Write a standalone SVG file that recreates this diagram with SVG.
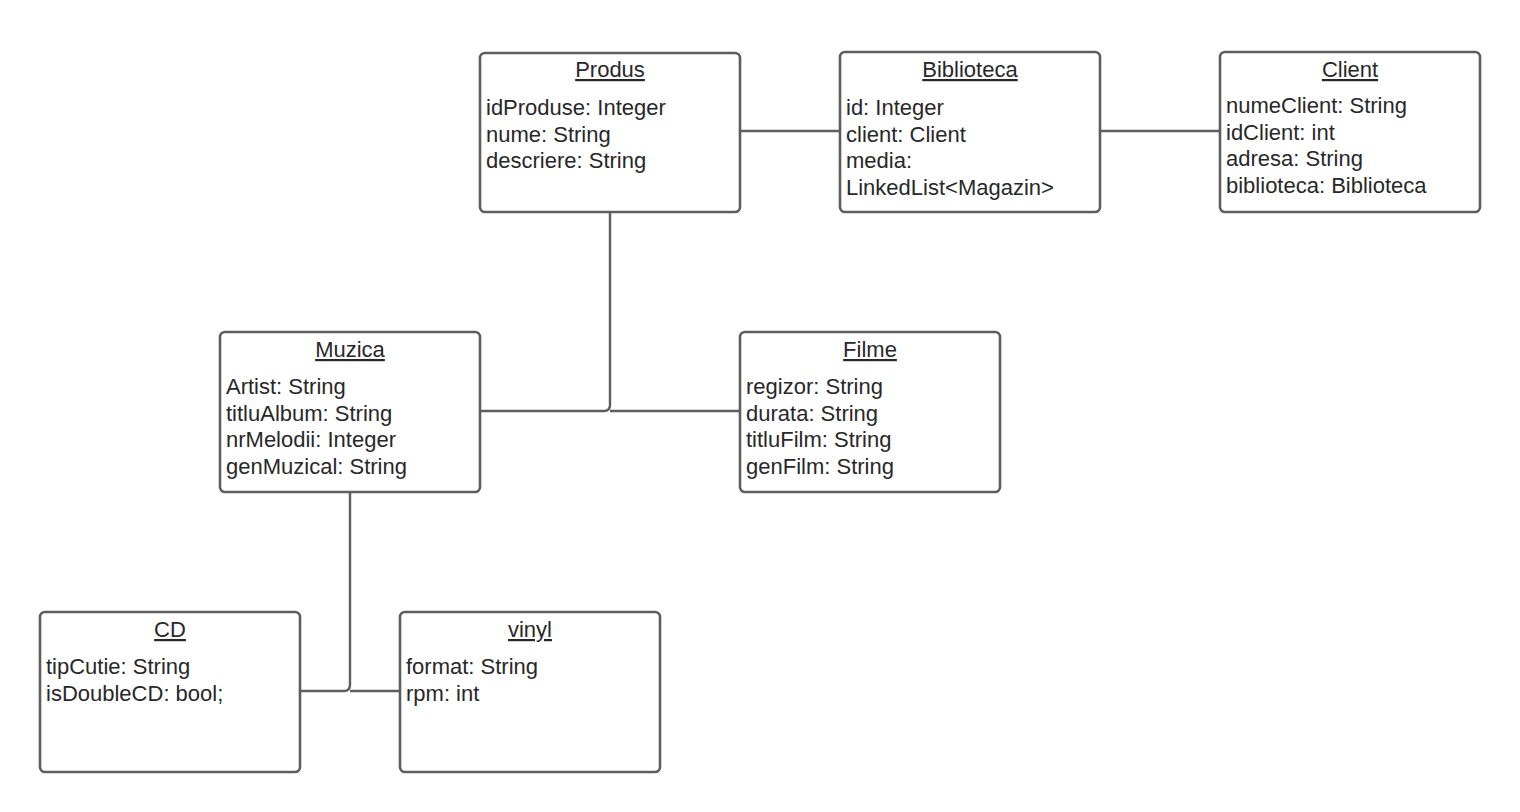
<svg xmlns="http://www.w3.org/2000/svg" width="1520" height="812" viewBox="0 0 1520 812">
<style>
.box{fill:#ffffff;stroke:#5e5e5e;stroke-width:2.6}
.t{font-family:"Liberation Sans",Arial,sans-serif;font-size:22px;fill:#282828}
.h{text-anchor:middle;text-decoration:underline}
.c{fill:none;stroke:#5e5e5e;stroke-width:2.4}
</style>
<rect width="1520" height="812" fill="#ffffff"/>
<g id="connectors">
<path class="c" d="M740,131 H840"/>
<path class="c" d="M1100,131 H1220"/>
<path class="c" d="M610,212 V405 Q610,411 604,411 H480"/>
<path class="c" d="M610,411 H740"/>
<path class="c" d="M350,492 V685 Q350,691 344,691 H300"/>
<path class="c" d="M350,691 H400"/>
</g>
<g id="produs">
<rect class="box" x="480" y="53" width="260" height="159" rx="5"/>
<text class="t h" x="610" y="77">Produs</text>
<text class="t" x="486" y="115">idProduse: Integer</text>
<text class="t" x="486" y="141.7">nume: String</text>
<text class="t" x="486" y="168.3">descriere: String</text>
</g>
<g id="biblioteca">
<rect class="box" x="840" y="52" width="260" height="160" rx="5"/>
<text class="t h" x="970" y="77">Biblioteca</text>
<text class="t" x="846" y="115">id: Integer</text>
<text class="t" x="846" y="141.7">client: Client</text>
<text class="t" x="846" y="168.3">media:</text>
<text class="t" x="846" y="195">LinkedList&lt;Magazin&gt;</text>
</g>
<g id="client">
<rect class="box" x="1220" y="52" width="260" height="160" rx="5"/>
<text class="t h" x="1350" y="77">Client</text>
<text class="t" x="1226" y="113">numeClient: String</text>
<text class="t" x="1226" y="139.7">idClient: int</text>
<text class="t" x="1226" y="166.3">adresa: String</text>
<text class="t" x="1226" y="193">biblioteca: Biblioteca</text>
</g>
<g id="muzica">
<rect class="box" x="220" y="332" width="260" height="160" rx="5"/>
<text class="t h" x="350" y="357">Muzica</text>
<text class="t" x="226" y="394">Artist: String</text>
<text class="t" x="226" y="420.7">titluAlbum: String</text>
<text class="t" x="226" y="447.3">nrMelodii: Integer</text>
<text class="t" x="226" y="474">genMuzical: String</text>
</g>
<g id="filme">
<rect class="box" x="740" y="332" width="260" height="160" rx="5"/>
<text class="t h" x="870" y="357">Filme</text>
<text class="t" x="746" y="394">regizor: String</text>
<text class="t" x="746" y="420.7">durata: String</text>
<text class="t" x="746" y="447.3">titluFilm: String</text>
<text class="t" x="746" y="474">genFilm: String</text>
</g>
<g id="cd">
<rect class="box" x="40" y="612" width="260" height="160" rx="5"/>
<text class="t h" x="170" y="637">CD</text>
<text class="t" x="46" y="674">tipCutie: String</text>
<text class="t" x="46" y="700.7">isDoubleCD: bool;</text>
</g>
<g id="vinyl">
<rect class="box" x="400" y="612" width="260" height="160" rx="5"/>
<text class="t h" x="530" y="637">vinyl</text>
<text class="t" x="406" y="674">format: String</text>
<text class="t" x="406" y="700.7">rpm: int</text>
</g>
</svg>
